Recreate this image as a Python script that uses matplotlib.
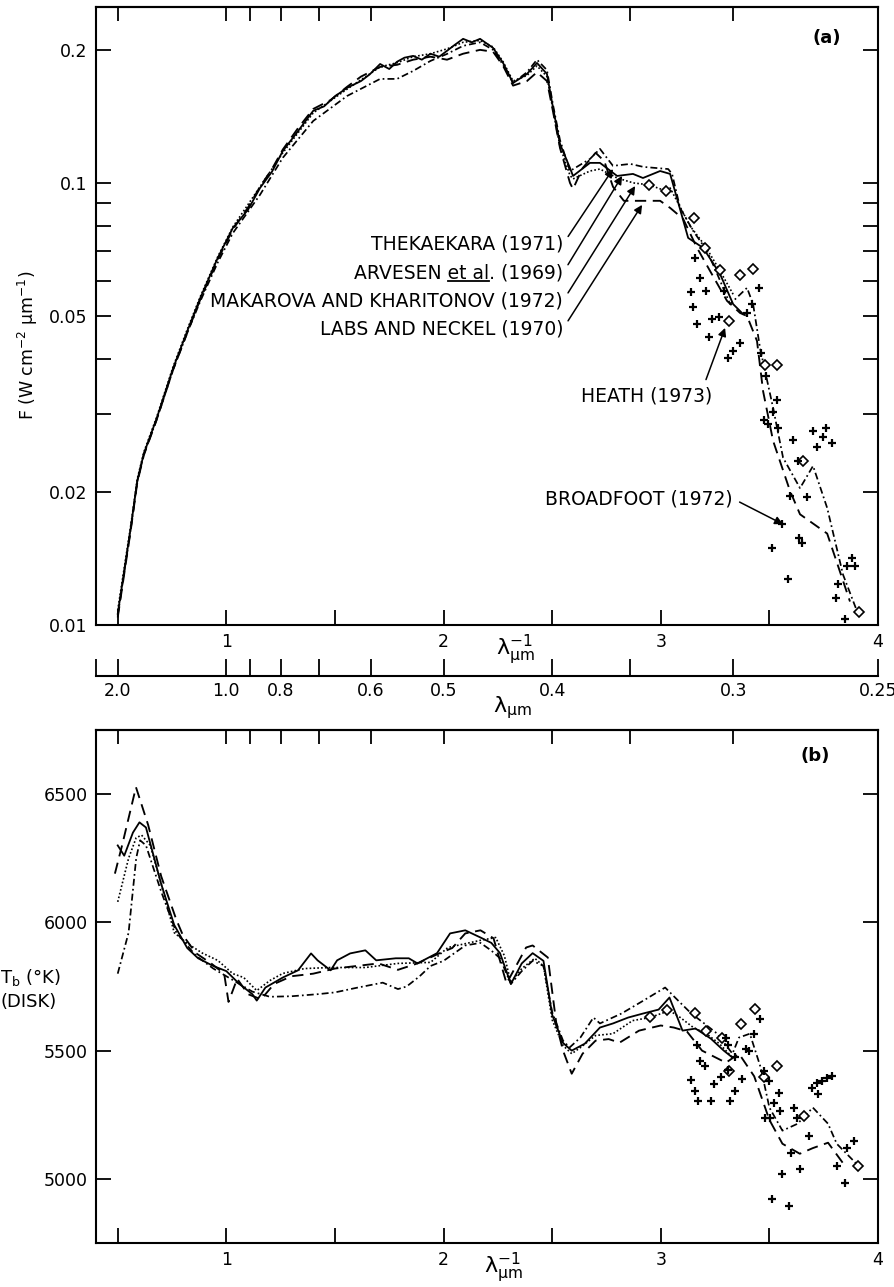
import numpy as np
import matplotlib
matplotlib.use('Agg')
import matplotlib.pyplot as plt
from matplotlib.ticker import FixedLocator, FixedFormatter, NullFormatter
from matplotlib.lines import Line2D
from matplotlib.text import Text
from matplotlib.transforms import IdentityTransform

plt.rcParams['mathtext.default'] = 'regular'

# ---- panel (a): solar flux F (W cm^-2 um^-1) vs 1/lambda (um^-1), pairs (x, F)
thek_F = np.array([
    (0.50, 0.0105), (0.56, 0.0165), (0.59, 0.0211), (0.62, 0.0243), (0.68, 0.0292),
    (0.755, 0.0378), (0.82, 0.0458), (0.88, 0.0540), (0.96, 0.0660), (1.03, 0.0770),
    (1.155, 0.0940), (1.26, 0.1140), (1.40, 0.1381), (1.556, 0.1573), (1.708, 0.1719),
    (1.786, 0.1719), (1.86, 0.1792), (1.94, 0.1888), (2.016, 0.1958), (2.09, 0.2042),
    (2.168, 0.2080), (2.228, 0.2000), (2.274, 0.1850), (2.32, 0.1683), (2.384, 0.1780),
    (2.43, 0.1900), (2.476, 0.1800), (2.504, 0.1500), (2.536, 0.1250), (2.582, 0.1064),
    (2.674, 0.1133), (2.72, 0.1194), (2.78, 0.1093), (2.86, 0.1104), (2.92, 0.1087),
    (3.034, 0.1075), (3.052, 0.1048), (3.089, 0.0878), (3.149, 0.0779), (3.213, 0.0702),
    (3.26, 0.0622), (3.319, 0.0532), (3.397, 0.0579), (3.425, 0.0532), (3.457, 0.0423),
    (3.517, 0.0310), (3.563, 0.0239), (3.641, 0.0204), (3.701, 0.0229), (3.766, 0.0184),
    (3.839, 0.0130), (3.908, 0.0106)])

arv_F = np.array([
    (0.50, 0.0106), (0.56, 0.0166), (0.59, 0.0212), (0.62, 0.0244), (0.68, 0.0294),
    (0.755, 0.0381), (0.82, 0.0462), (0.88, 0.0549), (0.96, 0.0676), (1.03, 0.0791),
    (1.10, 0.0870), (1.155, 0.0974), (1.21, 0.1060), (1.26, 0.1181), (1.33, 0.1310),
    (1.40, 0.1456), (1.45, 0.1490), (1.50, 0.1570), (1.556, 0.1641), (1.62, 0.1700),
    (1.66, 0.1760), (1.708, 0.1858), (1.75, 0.1810), (1.786, 0.1880), (1.82, 0.1920),
    (1.86, 0.1938), (1.90, 0.1900), (1.94, 0.1960), (1.98, 0.1930), (2.016, 0.1990),
    (2.05, 0.2050), (2.09, 0.2118), (2.13, 0.2080), (2.168, 0.2118), (2.228, 0.2020),
    (2.274, 0.1868), (2.32, 0.1683), (2.384, 0.1764), (2.43, 0.1868), (2.476, 0.1764),
    (2.504, 0.1478), (2.536, 0.1225), (2.582, 0.1081), (2.596, 0.1037), (2.674, 0.1110),
    (2.72, 0.1110), (2.799, 0.1037), (2.872, 0.1048), (2.918, 0.1026), (2.997, 0.1064),
    (3.043, 0.1048), (3.126, 0.0751), (3.195, 0.0713), (3.273, 0.0622), (3.333, 0.0532),
    (3.379, 0.0505)])

mak_F = np.array([
    (0.50, 0.0108), (0.56, 0.0168), (0.59, 0.0214), (0.62, 0.0246), (0.68, 0.0296),
    (0.755, 0.0384), (0.82, 0.0466), (0.88, 0.0553), (0.96, 0.0680), (1.03, 0.0795),
    (1.155, 0.0980), (1.26, 0.1170), (1.40, 0.1440), (1.556, 0.1630), (1.708, 0.1830),
    (1.786, 0.1870), (1.86, 0.1930), (1.94, 0.1960), (2.016, 0.2010), (2.09, 0.2080),
    (2.168, 0.2100), (2.228, 0.2030), (2.274, 0.1880), (2.32, 0.1700), (2.384, 0.1750),
    (2.43, 0.1840), (2.476, 0.1740), (2.504, 0.1460), (2.536, 0.1210), (2.582, 0.1040),
    (2.596, 0.1021), (2.674, 0.1064), (2.72, 0.1075), (2.799, 0.1026), (2.874, 0.1000),
    (2.946, 0.0990), (3.024, 0.0959), (3.043, 0.0974), (3.135, 0.0799), (3.204, 0.0721),
    (3.273, 0.0632), (3.333, 0.0560)])

labs_F = np.array([
    (0.50, 0.0104), (0.56, 0.0164), (0.59, 0.0210), (0.62, 0.0242), (0.68, 0.0292),
    (0.755, 0.0378), (0.82, 0.0458), (0.88, 0.0545), (0.96, 0.0670), (1.03, 0.0785),
    (1.10, 0.0880), (1.155, 0.0980), (1.21, 0.1075), (1.26, 0.1190), (1.33, 0.1330),
    (1.40, 0.1470), (1.48, 0.1540), (1.556, 0.1650), (1.62, 0.1740), (1.708, 0.1830),
    (1.786, 0.1850), (1.86, 0.1900), (1.94, 0.1930), (2.016, 0.1900), (2.09, 0.1960),
    (2.168, 0.2000), (2.228, 0.1980), (2.274, 0.1840), (2.32, 0.1660), (2.384, 0.1700),
    (2.43, 0.1780), (2.476, 0.1700), (2.504, 0.1450), (2.536, 0.1200), (2.582, 0.1000),
    (2.596, 0.0969), (2.64, 0.1080), (2.70, 0.1170), (2.74, 0.1120), (2.78, 0.0980),
    (2.83, 0.0911), (2.905, 0.0911), (2.997, 0.0911), (3.043, 0.0878), (3.103, 0.0829),
    (3.167, 0.0713), (3.227, 0.0632), (3.305, 0.0541), (3.365, 0.0508), (3.397, 0.0500),
    (3.443, 0.0439), (3.471, 0.0338), (3.517, 0.0261), (3.595, 0.0201), (3.641, 0.0178),
    (3.766, 0.0161), (3.871, 0.0113)])

heath_F = np.array([
    (2.946, 0.0990), (3.024, 0.0959), (3.153, 0.0833), (3.204, 0.0713), (3.273, 0.0636),
    (3.365, 0.0619), (3.425, 0.0639), (3.314, 0.0487), (3.480, 0.0388), (3.535, 0.0388),
    (3.655, 0.0235), (3.913, 0.0107)])

broad_F = np.array([
    (3.158, 0.0676), (3.181, 0.0610), (3.208, 0.0570), (3.139, 0.0567), (3.149, 0.0524),
    (3.167, 0.0480), (3.236, 0.0492), (3.268, 0.0497), (3.222, 0.0448), (3.309, 0.0402),
    (3.333, 0.0417), (3.365, 0.0435), (3.291, 0.0570), (3.397, 0.0508), (3.420, 0.0532),
    (3.452, 0.0579), (3.462, 0.0412), (3.485, 0.0366), (3.535, 0.0323), (3.517, 0.0303),
    (3.476, 0.0291), (3.494, 0.0285), (3.540, 0.0279), (3.609, 0.0262), (3.720, 0.0253),
    (3.701, 0.0275), (3.747, 0.0266), (3.789, 0.0258), (3.761, 0.0279), (3.632, 0.0235),
    (3.595, 0.0196), (3.673, 0.0195), (3.558, 0.0169), (3.512, 0.0149), (3.637, 0.0157),
    (3.650, 0.0153), (3.586, 0.0127), (3.816, 0.0124), (3.858, 0.0136), (3.881, 0.0142),
    (3.894, 0.0136), (3.807, 0.0115), (3.848, 0.0103)])

# ---- panel (b): brightness temperature Tb (K) vs 1/lambda
thek_T = np.array([
    (0.50, 5800), (0.55, 5960), (0.585, 6250), (0.603, 6320), (0.63, 6300), (0.70, 6120),
    (0.77, 5960), (0.86, 5870), (0.94, 5820), (1.00, 5790), (1.06, 5760), (1.12, 5730),
    (1.20, 5710), (1.30, 5712), (1.42, 5720), (1.50, 5727), (1.60, 5745), (1.72, 5765),
    (1.79, 5740), (1.83, 5750), (1.89, 5790), (1.94, 5830), (2.00, 5850), (2.05, 5880),
    (2.10, 5910), (2.17, 5920), (2.22, 5890), (2.26, 5860), (2.31, 5760), (2.36, 5810),
    (2.41, 5850), (2.46, 5830), (2.50, 5650), (2.55, 5539), (2.58, 5512), (2.63, 5551),
    (2.69, 5629), (2.72, 5606), (2.82, 5645), (2.92, 5695), (3.02, 5746), (3.08, 5695),
    (3.14, 5645), (3.20, 5606), (3.26, 5566), (3.33, 5488), (3.36, 5551), (3.41, 5566),
    (3.46, 5434), (3.50, 5278), (3.56, 5188), (3.63, 5215), (3.70, 5278), (3.77, 5215),
    (3.81, 5137), (3.91, 5051)])

arv_T = np.array([
    (0.50, 6300), (0.53, 6260), (0.57, 6350), (0.60, 6390), (0.63, 6370), (0.70, 6150),
    (0.76, 5990), (0.82, 5900), (0.87, 5860), (0.94, 5830), (1.00, 5810), (1.06, 5760),
    (1.09, 5740), (1.12, 5720), (1.14, 5695), (1.18, 5746), (1.26, 5785), (1.33, 5813),
    (1.39, 5879), (1.42, 5852), (1.48, 5813), (1.51, 5852), (1.57, 5879), (1.64, 5891),
    (1.69, 5852), (1.78, 5860), (1.84, 5860), (1.88, 5840), (1.97, 5880), (2.03, 5957),
    (2.10, 5969), (2.17, 5941), (2.22, 5920), (2.26, 5880), (2.31, 5760), (2.36, 5840),
    (2.41, 5880), (2.46, 5850), (2.50, 5640), (2.55, 5530), (2.59, 5500), (2.65, 5527),
    (2.72, 5590), (2.78, 5606), (2.85, 5629), (2.92, 5645), (2.99, 5660), (3.04, 5707),
    (3.10, 5578), (3.16, 5586), (3.23, 5547), (3.29, 5500), (3.33, 5473)])

mak_T = np.array([
    (0.50, 6080), (0.55, 6250), (0.585, 6330), (0.61, 6340), (0.65, 6300), (0.71, 6120),
    (0.76, 5960), (0.82, 5918), (0.89, 5880), (0.96, 5852), (1.03, 5800), (1.08, 5785),
    (1.14, 5734), (1.20, 5773), (1.26, 5801), (1.36, 5820), (1.48, 5824), (1.64, 5824),
    (1.79, 5840), (1.94, 5844), (2.02, 5902), (2.17, 5930), (2.24, 5941), (2.28, 5870),
    (2.31, 5765), (2.36, 5820), (2.42, 5860), (2.46, 5830), (2.50, 5620), (2.55, 5520),
    (2.59, 5488), (2.63, 5512), (2.70, 5559), (2.78, 5566), (2.87, 5617), (2.95, 5629),
    (3.04, 5656), (3.09, 5629), (3.15, 5590), (3.21, 5566), (3.27, 5527), (3.33, 5473)])

labs_T = np.array([
    (0.487, 6190), (0.52, 6300), (0.584, 6527), (0.64, 6380), (0.70, 6180), (0.77, 6010),
    (0.80, 5950), (0.86, 5880), (0.93, 5840), (0.99, 5800), (1.01, 5690), (1.05, 5780),
    (1.10, 5720), (1.16, 5700), (1.22, 5760), (1.30, 5790), (1.40, 5800), (1.50, 5820),
    (1.60, 5830), (1.70, 5840), (1.79, 5815), (1.88, 5840), (1.98, 5879), (2.04, 5900),
    (2.10, 5957), (2.17, 5969), (2.23, 5938), (2.29, 5762), (2.38, 5902), (2.41, 5910),
    (2.48, 5863), (2.52, 5600), (2.55, 5500), (2.59, 5410), (2.64, 5488), (2.70, 5539),
    (2.76, 5545), (2.81, 5531), (2.90, 5578), (3.00, 5598), (3.06, 5590), (3.12, 5575),
    (3.19, 5500), (3.30, 5453), (3.36, 5488), (3.43, 5400), (3.50, 5230), (3.56, 5137),
    (3.64, 5098), (3.70, 5120), (3.77, 5141), (3.84, 5060)])

heath_T = np.array([
    (2.951, 5633), (3.029, 5660), (3.158, 5645), (3.209, 5578), (3.282, 5551),
    (3.369, 5602), (3.434, 5664), (3.314, 5422), (3.475, 5399), (3.535, 5442),
    (3.659, 5246), (3.908, 5051)])

broad_T = np.array([
    (3.167, 5520), (3.181, 5461), (3.204, 5442), (3.140, 5387), (3.158, 5344),
    (3.172, 5305), (3.232, 5305), (3.245, 5371), (3.278, 5399), (3.310, 5426),
    (3.319, 5305), (3.342, 5344), (3.374, 5391), (3.301, 5551), (3.310, 5520),
    (3.342, 5477), (3.392, 5508), (3.406, 5500), (3.429, 5566), (3.457, 5625),
    (3.475, 5422), (3.498, 5383), (3.521, 5297), (3.544, 5336), (3.480, 5238),
    (3.503, 5238), (3.549, 5266), (3.558, 5020), (3.512, 4922), (3.591, 4895),
    (3.614, 5278), (3.627, 5238), (3.682, 5168), (3.641, 5039), (3.696, 5356),
    (3.719, 5375), (3.742, 5383), (3.765, 5395), (3.788, 5402), (3.724, 5332),
    (3.811, 5051), (3.848, 4985), (3.857, 5121), (3.889, 5149), (3.600, 5102)])

# tick values
lam_ticks = [2.5, 2.0, 1.0, 0.9, 0.8, 0.7, 0.6, 0.5, 0.4, 0.35, 0.3, 0.25]
lam_labels = ['', '2.0', '1.0', '', '0.8', '', '0.6', '0.5', '0.4', '', '0.3', '0.25']
wn_ticks = [0.5, 1.0, 1.5, 2.0, 2.5, 3.0, 3.5, 4.0]
wn_labels = ['', '1', '', '2', '', '3', '', '4']
F_ticks = [0.01, 0.02, 0.05, 0.1, 0.2]
F_minor = [0.03, 0.04, 0.06, 0.07, 0.08, 0.09]
T_ticks = [5000, 5500, 6000, 6500]

series = [
    (thek_F, thek_T, dict(ls=(0, (4, 1.8, 1, 1.8)), lw=1.25)),
    (arv_F, arv_T, dict(ls='-', lw=1.3)),
    (mak_F, mak_T, dict(ls=(0, (1, 1.3)), lw=1.2)),
    (labs_F, labs_T, dict(ls=(0, (6, 3.5)), lw=1.35)),
]

W_PX, H_PX = 895, 1287
fig = plt.figure(figsize=(W_PX / 100, H_PX / 100), dpi=100)
L, W = 96 / W_PX, 782 / W_PX
ax1 = fig.add_axes([L, 1 - 625 / H_PX, W, 618 / H_PX])
ax2 = fig.add_axes([L, 1 - 1243 / H_PX, W, 513 / H_PX])
axl = fig.add_axes([L, 1 - 676 / H_PX, W, 0.02])

lam_pos = 1.0 / np.array(lam_ticks)
tick_fs = 12.5

for ax in (ax1, ax2):
    ax.set_xlim(0.4, 4.0)
    for sp in ax.spines.values():
        sp.set_linewidth(1.5)
    ax.xaxis.set_major_locator(FixedLocator(wn_ticks))
    ax.xaxis.set_major_formatter(FixedFormatter(wn_labels))
    ax.tick_params(which='both', direction='in', length=11, width=1.3,
                   right=True, top=False, labelsize=tick_fs, pad=6)
    sec = ax.secondary_xaxis('top')
    sec.set_xticks(lam_pos[1:-1])
    sec.tick_params(direction='in', length=10, width=1.3, labeltop=False)
    sec.spines['top'].set_linewidth(1.5)

# panel (a)
ax1.set_yscale('log')
ax1.set_ylim(0.01, 0.25)
ax1.yaxis.set_major_locator(FixedLocator(F_ticks))
ax1.yaxis.set_major_formatter(FixedFormatter([str(v) for v in F_ticks]))
ax1.yaxis.set_minor_locator(FixedLocator(F_minor))
ax1.yaxis.set_minor_formatter(NullFormatter())
for dF, dT, st in series:
    ax1.plot(dF[:, 0], dF[:, 1], color='k', **st)
    ax2.plot(dT[:, 0], dT[:, 1], color='k', **st)
ax1.plot(heath_F[:, 0], heath_F[:, 1], ls='none', marker='D', ms=5.5, mfc='white', mec='k', mew=1.2)
ax1.plot(broad_F[:, 0], broad_F[:, 1], ls='none', marker='+', ms=5.5, mec='k', mew=1.6)

# panel (b)
ax2.set_ylim(4750, 6750)
ax2.yaxis.set_major_locator(FixedLocator(T_ticks))
ax2.plot(heath_T[:, 0], heath_T[:, 1], ls='none', marker='D', ms=5.5, mfc='white', mec='k', mew=1.2)
ax2.plot(broad_T[:, 0], broad_T[:, 1], ls='none', marker='+', ms=5.5, mec='k', mew=1.6)

# separate wavelength scale
axl.set_xlim(0.4, 4.0)
axl.patch.set_visible(False)
for s in ('top', 'left', 'right'):
    axl.spines[s].set_visible(False)
axl.spines['bottom'].set_linewidth(1.5)
axl.set_yticks([])
axl.xaxis.set_major_locator(FixedLocator(lam_pos))
axl.xaxis.set_major_formatter(FixedFormatter(lam_labels))
axl.tick_params(axis='x', direction='in', length=12, width=1.3, labelsize=tick_fs, pad=4)

fs = 13.5
fig.text(28 / W_PX, 1 - 345 / H_PX, r'F (W cm$^{-2}$ $\mu$m$^{-1}$)', rotation=90,
         ha='center', va='center', fontsize=12.5)
fig.text(0.0, 1 - 977 / H_PX, r'T$_b$ ($\degree$K)', ha='left', va='center', fontsize=13)
fig.text(0.0, 1 - 1002 / H_PX, '(DISK)', ha='left', va='center', fontsize=13)
fig.text(515 / W_PX, 1 - 650 / H_PX, r'$\lambda^{-1}_{\mu m}$', ha='center', va='center', fontsize=16)
fig.text(503 / W_PX, 1 - 1268 / H_PX, r'$\lambda^{-1}_{\mu m}$', ha='center', va='center', fontsize=16)
fig.text(512 / W_PX, 1 - 708 / H_PX, r'$\lambda_{\mu m}$', ha='center', va='center', fontsize=16)
fig.text(827 / W_PX, 1 - 38 / H_PX, '(a)', ha='center', va='center', fontsize=13, fontweight='bold')
fig.text(815 / W_PX, 1 - 756 / H_PX, '(b)', ha='center', va='center', fontsize=13, fontweight='bold')

arrow = dict(arrowstyle='-|>', color='k', lw=1.1, mutation_scale=12, shrinkA=3, shrinkB=0)
notes = [
    ('THEKAEKARA (1971)', (2.780, 0.1075), (2.550, 0.0727)),
    ('ARVESEN et al. (1969)', (2.822, 0.1037), (2.550, 0.0626)),
    ('MAKAROVA AND KHARITONOV (1972)', (2.882, 0.0984), (2.550, 0.0541)),
    ('LABS AND NECKEL (1970)', (2.914, 0.0892), (2.550, 0.0468)),
]
texts = []
for txt, tip, pos in notes:
    a = ax1.annotate(txt, xy=tip, xytext=pos, ha='right', va='center', fontsize=fs,
                     arrowprops=dict(arrow, relpos=(1.0, 0.5)))
    texts.append(a)
ax1.annotate('HEATH (1973)', xy=(3.296, 0.0470), xytext=(2.937, 0.0330), ha='center',
             va='center', fontsize=fs, arrowprops=dict(arrow, relpos=(0.93, 1.0)))
ax1.annotate('BROADFOOT (1972)', xy=(3.563, 0.0169), xytext=(3.333, 0.0193), ha='right',
             va='center', fontsize=fs, arrowprops=dict(arrow, relpos=(1.0, 0.5)))

# underline "et al"
fig.canvas.draw()
rend = fig.canvas.get_renderer()
bb = Text.get_window_extent(texts[1], rend)


def text_w(s):
    t = fig.text(0, 0, s, fontsize=fs)
    w = t.get_window_extent(rend).width
    t.remove()
    return w


w_suf = text_w('. (1969)')
w_et = text_w('et al')
x1 = bb.x1 - w_suf
fig.add_artist(Line2D([x1 - w_et, x1], [bb.y0 + 1, bb.y0 + 1], transform=IdentityTransform(),
                      color='k', lw=1.3))

fig.savefig('out.png', dpi=100, facecolor='white')
